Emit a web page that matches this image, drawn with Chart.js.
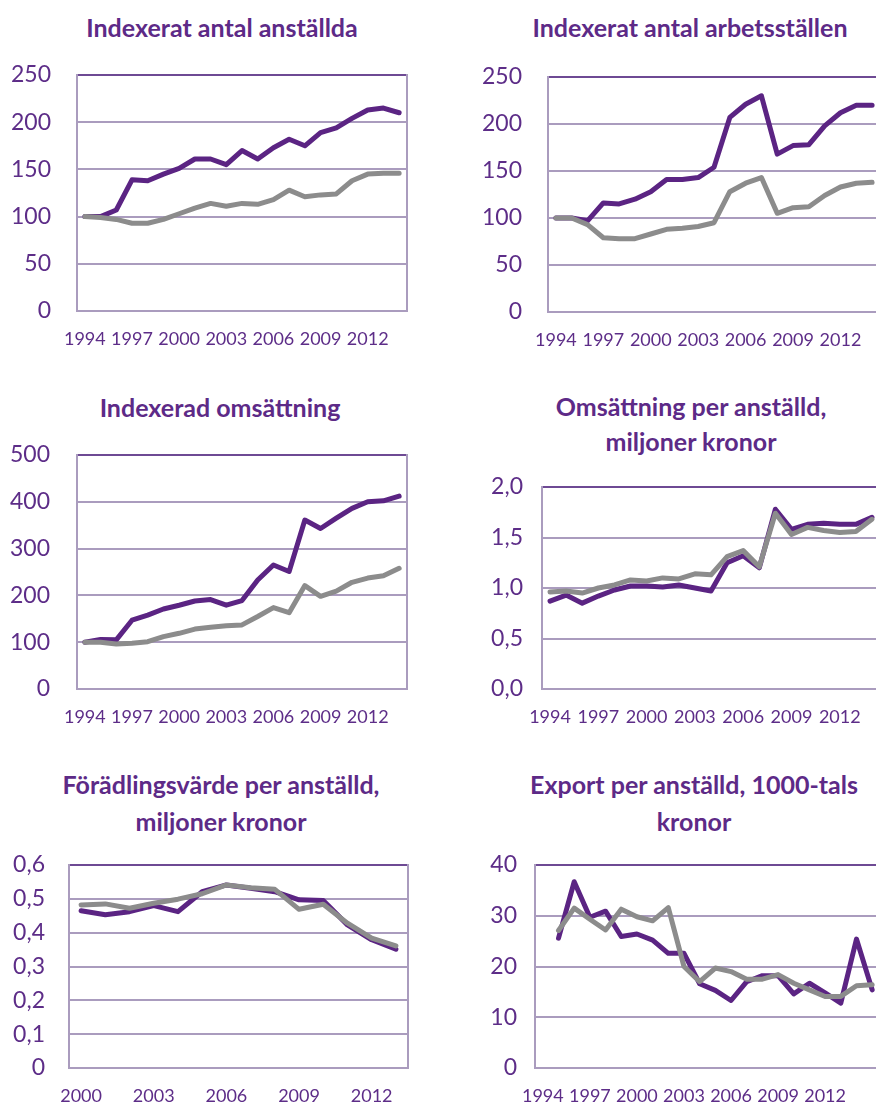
<!DOCTYPE html>
<html><head><meta charset="utf-8">
<script src="https://cdn.jsdelivr.net/npm/chart.js@4/dist/chart.umd.min.js"></script>
<style>
html,body{margin:0;padding:0;background:#fff;overflow:hidden;width:876px;height:1102px;position:relative;}
.t{position:absolute;font-family:Lato,"Open Sans",sans-serif;font-weight:bold;color:#5d2a87;font-size:25px;text-align:center;white-space:nowrap;width:440px;}
canvas{position:absolute;}
</style></head><body>
<div class="t" id="t1" style="left:2px;top:9px;line-height:36px;">Indexerat antal anställda</div>
<div class="t" id="t2" style="left:470px;top:9px;line-height:36px;">Indexerat antal arbetsställen</div>
<div class="t" id="t3" style="left:0px;top:389px;line-height:36px;">Indexerad omsättning</div>
<div class="t" id="t4" style="left:471px;top:389px;line-height:35px;">Omsättning per anställd,<br>miljoner kronor</div>
<div class="t" id="t5" style="left:1px;top:766px;line-height:37px;">Förädlingsvärde per anställd,<br>miljoner kronor</div>
<div class="t" id="t6" style="left:474px;top:766px;line-height:37px;">Export per anställd, 1000-tals<br>kronor</div>
<canvas id="c1"></canvas><canvas id="c2"></canvas><canvas id="c3"></canvas>
<canvas id="c4"></canvas><canvas id="c5"></canvas><canvas id="c6"></canvas>
<script>
// ---- categories ----
const years1994to2014 = ['1994','1995','1996','1997','1998','1999','2000','2001','2002','2003','2004','2005','2006','2007','2008','2009','2010','2011','2012','2013','2014'];
const years2000to2013 = ['2000','2001','2002','2003','2004','2005','2006','2007','2008','2009','2010','2011','2012','2013'];
const years1994to2015 = ['1994','1995','1996','1997','1998','1999','2000','2001','2002','2003','2004','2005','2006','2007','2008','2009','2010','2011','2012','2013','2014','2015'];

// ---- tick labels ----
const xTicksLong = ['1994','1997','2000','2003','2006','2009','2012'];
const xTicksShort = ['2000','2003','2006','2009','2012'];

// ---- series values ----
const anstalldaLila = [100,100,107,139,138,145,151,161,161,155,170,161,173,182,175,189,194,204,213,215,210];
const anstalldaGra  = [100,99,97,93,93,97,103,109,114,111,114,113,118,128,121,123,124,138,145,146,146];

const arbetsstallenLila = [100,100,97,116,115,120,128,141,141,143,154,207,221,230,168,177,178,198,212,220,220];
const arbetsstallenGra  = [100,100,93,79,78,78,83,88,89,91,95,128,137,143,105,111,112,124,133,137,138];

const omsattningLila = [100,106,105,147,158,171,179,188,191,179,189,233,265,251,361,343,365,386,400,402,412];
const omsattningGra  = [100,100,96,98,101,112,119,128,132,135,137,155,174,163,221,198,209,228,237,242,258];

const omsPerAnstLila = [0.87,0.93,0.85,0.92,0.98,1.02,1.02,1.01,1.03,1.00,0.97,1.25,1.32,1.20,1.78,1.58,1.63,1.64,1.63,1.63,1.70];
const omsPerAnstGra  = [0.96,0.97,0.95,1.00,1.03,1.08,1.07,1.10,1.09,1.14,1.13,1.31,1.37,1.21,1.74,1.53,1.60,1.57,1.55,1.56,1.68];

const foradlingLila = [0.465,0.453,0.462,0.480,0.462,0.521,0.541,0.531,0.521,0.497,0.495,0.423,0.379,0.351];
const foradlingGra  = [0.482,0.485,0.472,0.487,0.499,0.515,0.541,0.533,0.528,0.469,0.484,0.428,0.384,0.361];

const exportLila = [null,25.6,36.7,29.7,30.9,25.9,26.4,25.2,22.6,22.6,16.6,15.3,13.3,17.0,18.2,18.2,14.6,16.7,14.8,12.8,25.4,15.4];
const exportGra  = [null,27.1,31.5,29.3,27.2,31.3,29.8,29.0,31.6,20.0,17.0,19.7,19.0,17.5,17.5,18.4,16.7,15.4,14.1,14.1,16.2,16.4];

// ---- styling ----
const PURPLE = '#5b2483';
const GRAY = '#8c8c8c';
const TEXT = '#5d2d88';
const GRID = '#aa9cbe';
const TOPLINE = '#6e4a94';
const FONT = 'Lato, "Open Sans", sans-serif';

const intFmt = v => String(v);
const dec1 = v => v.toFixed(1).replace('.', ',');
const dec1zero = v => (Math.abs(v) < 1e-9 ? '0' : v.toFixed(1).replace('.', ','));

function makeChart(id, o) {
  const AXW = 75, XH = 45, PT = 15, PR = o.rightBorder ? 3 : 6;
  const cv = document.getElementById(id);
  const w = (o.R - o.L) + AXW + PR;
  const h = (o.B - o.T) + PT + XH;
  cv.width = w; cv.height = h;
  cv.style.width = w + 'px'; cv.style.height = h + 'px';
  cv.style.left = (o.L - AXW) + 'px'; cv.style.top = (o.T - PT) + 'px';
  const scales = {
    x: {
      type: 'category', offset: true,
      grid: { display: false, drawTicks: false },
      border: { display: true, color: GRID, width: 2 },
      ticks: {
        autoSkip: false, maxRotation: 0, minRotation: 0, padding: 17,
        color: TEXT, font: { family: FONT, size: 18 },
        callback: function (value) {
          const l = this.getLabelForValue(value);
          return o.xTicks.includes(l) ? l : null;
        }
      },
      afterFit: s => { s.height = XH; s.paddingLeft = 0; s.paddingRight = 0; }
    },
    y: {
      min: o.min, max: o.max,
      grid: {
        drawTicks: false, lineWidth: 2,
        color: c => (c.tick && c.tick.value === o.max ? TOPLINE : GRID)
      },
      border: { display: true, color: GRID, width: 2 },
      ticks: {
        stepSize: o.step, padding: o.yPad, color: TEXT, autoSkip: false,
        font: { family: FONT, size: 23 },
        callback: v => o.fmt(v)
      },
      afterFit: s => { s.width = AXW; s.paddingTop = 0; s.paddingBottom = 0; }
    }
  };
  if (o.rightBorder) {
    scales.y2 = {
      position: 'right', min: o.min, max: o.max,
      grid: { display: false, drawTicks: false },
      border: { display: true, color: GRID, width: 2 },
      ticks: { display: false },
      afterFit: s => { s.width = 0; s.paddingTop = 0; s.paddingBottom = 0; }
    };
  }
  new Chart(cv, {
    type: 'line',
    data: {
      labels: o.labels,
      datasets: [
        { data: o.gray, borderColor: GRAY, borderWidth: 5, pointRadius: 0, tension: 0,
          borderJoinStyle: 'round', borderCapStyle: 'round', fill: false },
        { data: o.purple, borderColor: PURPLE, borderWidth: 5, pointRadius: 0, tension: 0,
          borderJoinStyle: 'round', borderCapStyle: 'round', fill: false }
      ]
    },
    options: {
      responsive: false, animation: false, devicePixelRatio: 1,
      layout: { padding: { top: PT, right: PR, left: 0, bottom: 0 } },
      plugins: { legend: { display: false }, tooltip: { enabled: false }, title: { display: false } },
      scales: scales
    }
  });
}

makeChart('c1', { L: 77, R: 407, T: 75, B: 311, labels: years1994to2014, purple: anstalldaLila, gray: anstalldaGra,
  min: 0, max: 250, step: 50, fmt: intFmt, yPad: 26, xTicks: xTicksLong, rightBorder: true });
makeChart('c2', { L: 548, R: 880, T: 77, B: 312, labels: years1994to2014, purple: arbetsstallenLila, gray: arbetsstallenGra,
  min: 0, max: 250, step: 50, fmt: intFmt, yPad: 26, xTicks: xTicksLong, rightBorder: false });
makeChart('c3', { L: 77, R: 407, T: 455, B: 689, labels: years1994to2014, purple: omsattningLila, gray: omsattningGra,
  min: 0, max: 500, step: 100, fmt: intFmt, yPad: 27, xTicks: xTicksLong, rightBorder: true });
makeChart('c4', { L: 542, R: 880, T: 487, B: 689, labels: years1994to2014, purple: omsPerAnstLila, gray: omsPerAnstGra,
  min: 0, max: 2, step: 0.5, fmt: dec1, yPad: 19, xTicks: xTicksLong, rightBorder: false });
makeChart('c5', { L: 69, R: 408, T: 865, B: 1068, labels: years2000to2013, purple: foradlingLila, gray: foradlingGra,
  min: 0, max: 0.6, step: 0.1, fmt: dec1zero, yPad: 24, xTicks: xTicksShort, rightBorder: true });
makeChart('c6', { L: 535, R: 880, T: 865, B: 1068, labels: years1994to2015, purple: exportLila, gray: exportGra,
  min: 0, max: 40, step: 10, fmt: intFmt, yPad: 18, xTicks: xTicksLong, rightBorder: false });
</script>
</body></html>
